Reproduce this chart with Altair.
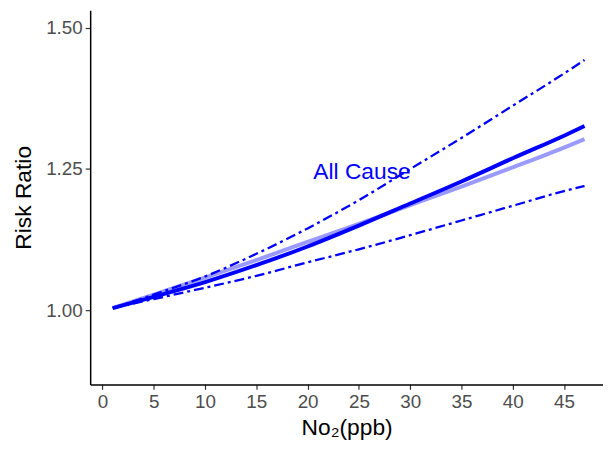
import altair as alt
import pandas as pd

x_vals = [1, 5, 10, 15, 20, 25, 30, 35, 40, 45, 47]
rr_main = [1.004, 1.024, 1.050, 1.080, 1.113, 1.150, 1.189, 1.228, 1.269, 1.309, 1.326]
rr_linear = [1.004, 1.028, 1.058, 1.089, 1.121, 1.153, 1.186, 1.219, 1.253, 1.288, 1.303]
rr_upper = [1.004, 1.028, 1.060, 1.100, 1.145, 1.195, 1.250, 1.305, 1.362, 1.419, 1.443]
rr_lower = [1.004, 1.020, 1.040, 1.061, 1.085, 1.108, 1.133, 1.159, 1.185, 1.211, 1.220]

label_text = ["All Cause"]
label_x = [25.3]
label_y = [1.245]

x_ticks = [0, 5, 10, 15, 20, 25, 30, 35, 40, 45]
y_ticks = [1.00, 1.25, 1.50]

df = pd.DataFrame({
    "x": x_vals,
    "main": rr_main,
    "linear": rr_linear,
    "upper": rr_upper,
    "lower": rr_lower,
})
lab = pd.DataFrame({"t": label_text, "x": label_x, "y": label_y})

xs = alt.Scale(domain=[-1.2, 48.8], nice=False, zero=False)
ys = alt.Scale(domain=[0.869, 1.531], nice=False, zero=False)

common = dict(
    grid=False,
    domainColor="black",
    domainWidth=1.5,
    tickColor="#333333",
    tickWidth=1.2,
    tickSize=5,
    labelColor="#4d4d4d",
    labelFontSize=19,
    labelFont="Liberation Sans",
    titleFont="Liberation Sans",
    titleFontSize=23,
    titleFontWeight="normal",
    titleColor="black",
    labelPadding=3,
)

xenc = alt.X("x:Q", scale=xs, title="No₂(ppb)",
             axis=alt.Axis(values=x_ticks, format="d", titlePadding=6, **common))


def yenc(col):
    return alt.Y(f"{col}:Q", scale=ys, title="Risk Ratio",
                 axis=alt.Axis(values=y_ticks, format=".2f", titlePadding=10, **common))


base = alt.Chart(df)
dash = [10, 4, 3, 4]

light = base.mark_line(color="#9a9aff", strokeWidth=4, interpolate="monotone").encode(
    x=xenc, y=yenc("linear"))
up = base.mark_line(color="#0000ff", strokeWidth=2.3, strokeDash=dash,
                    interpolate="monotone").encode(x=xenc, y=yenc("upper"))
lo = base.mark_line(color="#0000ff", strokeWidth=2.3, strokeDash=dash,
                    interpolate="monotone").encode(x=xenc, y=yenc("lower"))
main = base.mark_line(color="#0000ff", strokeWidth=4, interpolate="monotone").encode(
    x=xenc, y=yenc("main"))
txt = alt.Chart(lab).mark_text(color="#0000ff", fontSize=23, font="Liberation Sans",
                               align="center", baseline="middle").encode(
    x=alt.X("x:Q", scale=xs), y=alt.Y("y:Q", scale=ys), text="t:N")

chart = alt.layer(light, up, lo, main, txt).properties(
    width=518, height=378,
    autosize=alt.AutoSizeParams(type="none"),
    padding={"left": 83, "top": 0, "right": 0, "bottom": 60},
    background="white",
).configure_view(stroke=None)

chart.save("out.html", embed_options={"renderer": "svg", "actions": False})
